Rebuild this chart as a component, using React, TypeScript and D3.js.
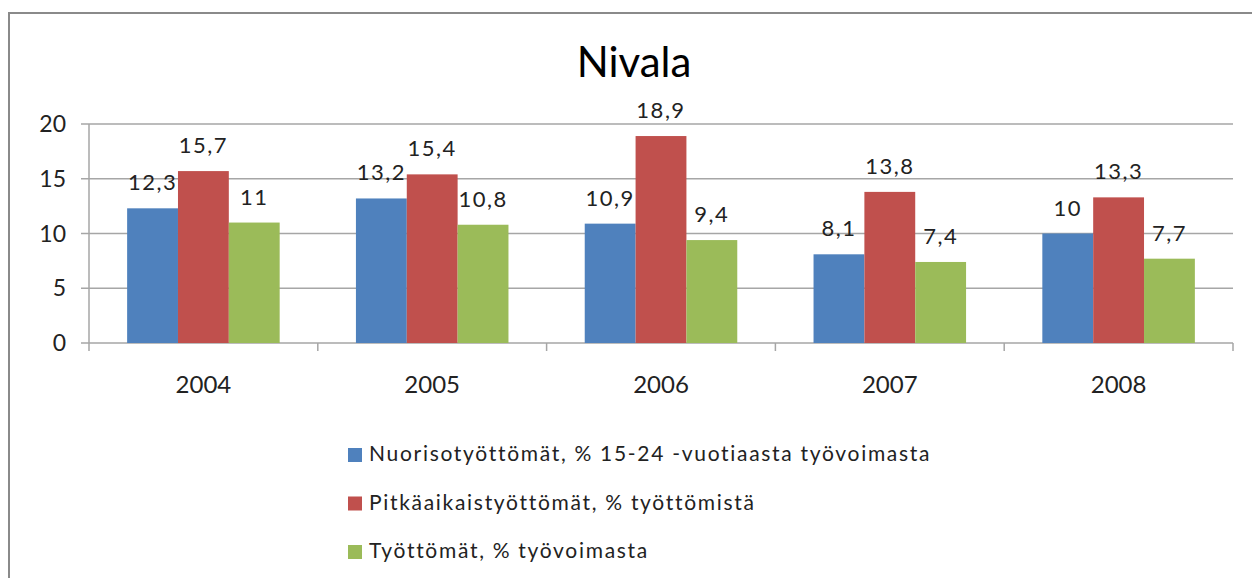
import React from "react";
import * as d3 from "d3";

const categories = ["2004", "2005", "2006", "2007", "2008"];
const seriesNames = [
  "Nuorisotyöttömät, % 15-24 -vuotiaasta työvoimasta",
  "Pitkäaikaistyöttömät, % työttömistä",
  "Työttömät, % työvoimasta",
];
const youth = [12.3, 13.2, 10.9, 8.1, 10];
const longTerm = [15.7, 15.4, 18.9, 13.8, 13.3];
const total = [11, 10.8, 9.4, 7.4, 7.7];
const yTicks = [0, 5, 10, 15, 20];
const colors = ["#4F81BD", "#C0504D", "#9BBB59"];

const W = 1252;
const H = 578;
const FONT = "Lato, 'Open Sans', sans-serif";

export default function App() {
  const series = [youth, longTerm, total];
  const left = 89, right = 1233, top = 124, bottom = 343;
  const x = d3.scaleBand<string>().domain(categories).range([left, right]).paddingInner(0).paddingOuter(0);
  const y = d3.scaleLinear().domain([0, 20]).range([bottom, top]);
  const bw = x.bandwidth() / 4.5;
  const fmt = (v: number) => String(v).replace(".", ",");

  return (
    <svg width={W} height={H} style={{ position: "absolute", left: 0, top: 0 }} fontFamily={FONT}>
      <rect x={0} y={0} width={W} height={H} fill="#fff" />
      <path d={`M9,${H} V13 H${W}`} fill="none" stroke="#8a8a8a" strokeWidth={2} />
      <text x={634} y={77} textAnchor="middle" fontSize={42} fill="#000">Nivala</text>
      {yTicks.map((t) => (
        <g key={t}>
          <line x1={left - 8} x2={right} y1={y(t)} y2={y(t)} stroke="#a6a6a6" strokeWidth={1.5} />
          <text x={66} y={y(t) + 8} textAnchor="end" fontSize={23} fill="#222">{t}</text>
        </g>
      ))}
      <line x1={left} x2={left} y1={top} y2={bottom} stroke="#a6a6a6" strokeWidth={1.5} />
      {categories.map((c, i) => (
        <line key={"t" + i} x1={x(c)!} x2={x(c)!} y1={bottom} y2={bottom + 8} stroke="#a6a6a6" strokeWidth={1.5} />
      ))}
      <line x1={right} x2={right} y1={bottom} y2={bottom + 8} stroke="#a6a6a6" strokeWidth={1.5} />
      {categories.map((c, i) => {
        const x0 = x(c)! + 0.75 * bw;
        return (
          <g key={c}>
            {series.map((s, k) => (
              <g key={k}>
                <rect x={x0 + k * bw} y={y(s[i])} width={bw} height={bottom - y(s[i])} fill={colors[k]} />
                <text x={x0 + k * bw + bw / 2} y={y(s[i]) - 18} textAnchor="middle" fontSize={22} letterSpacing={1.5} fill="#222">{fmt(s[i])}</text>
              </g>
            ))}
            <text x={x(c)! + x.bandwidth() / 2} y={393} textAnchor="middle" fontSize={24} fill="#222">{c}</text>
          </g>
        );
      })}
      {seriesNames.map((n, k) => (
        <g key={n}>
          <rect x={348} y={448 + k * 48.5} width={14} height={14} fill={colors[k]} />
          <text x={369} y={461 + k * 48.5} fontSize={21} letterSpacing={1.7} fill="#222">{n}</text>
        </g>
      ))}
    </svg>
  );
}
